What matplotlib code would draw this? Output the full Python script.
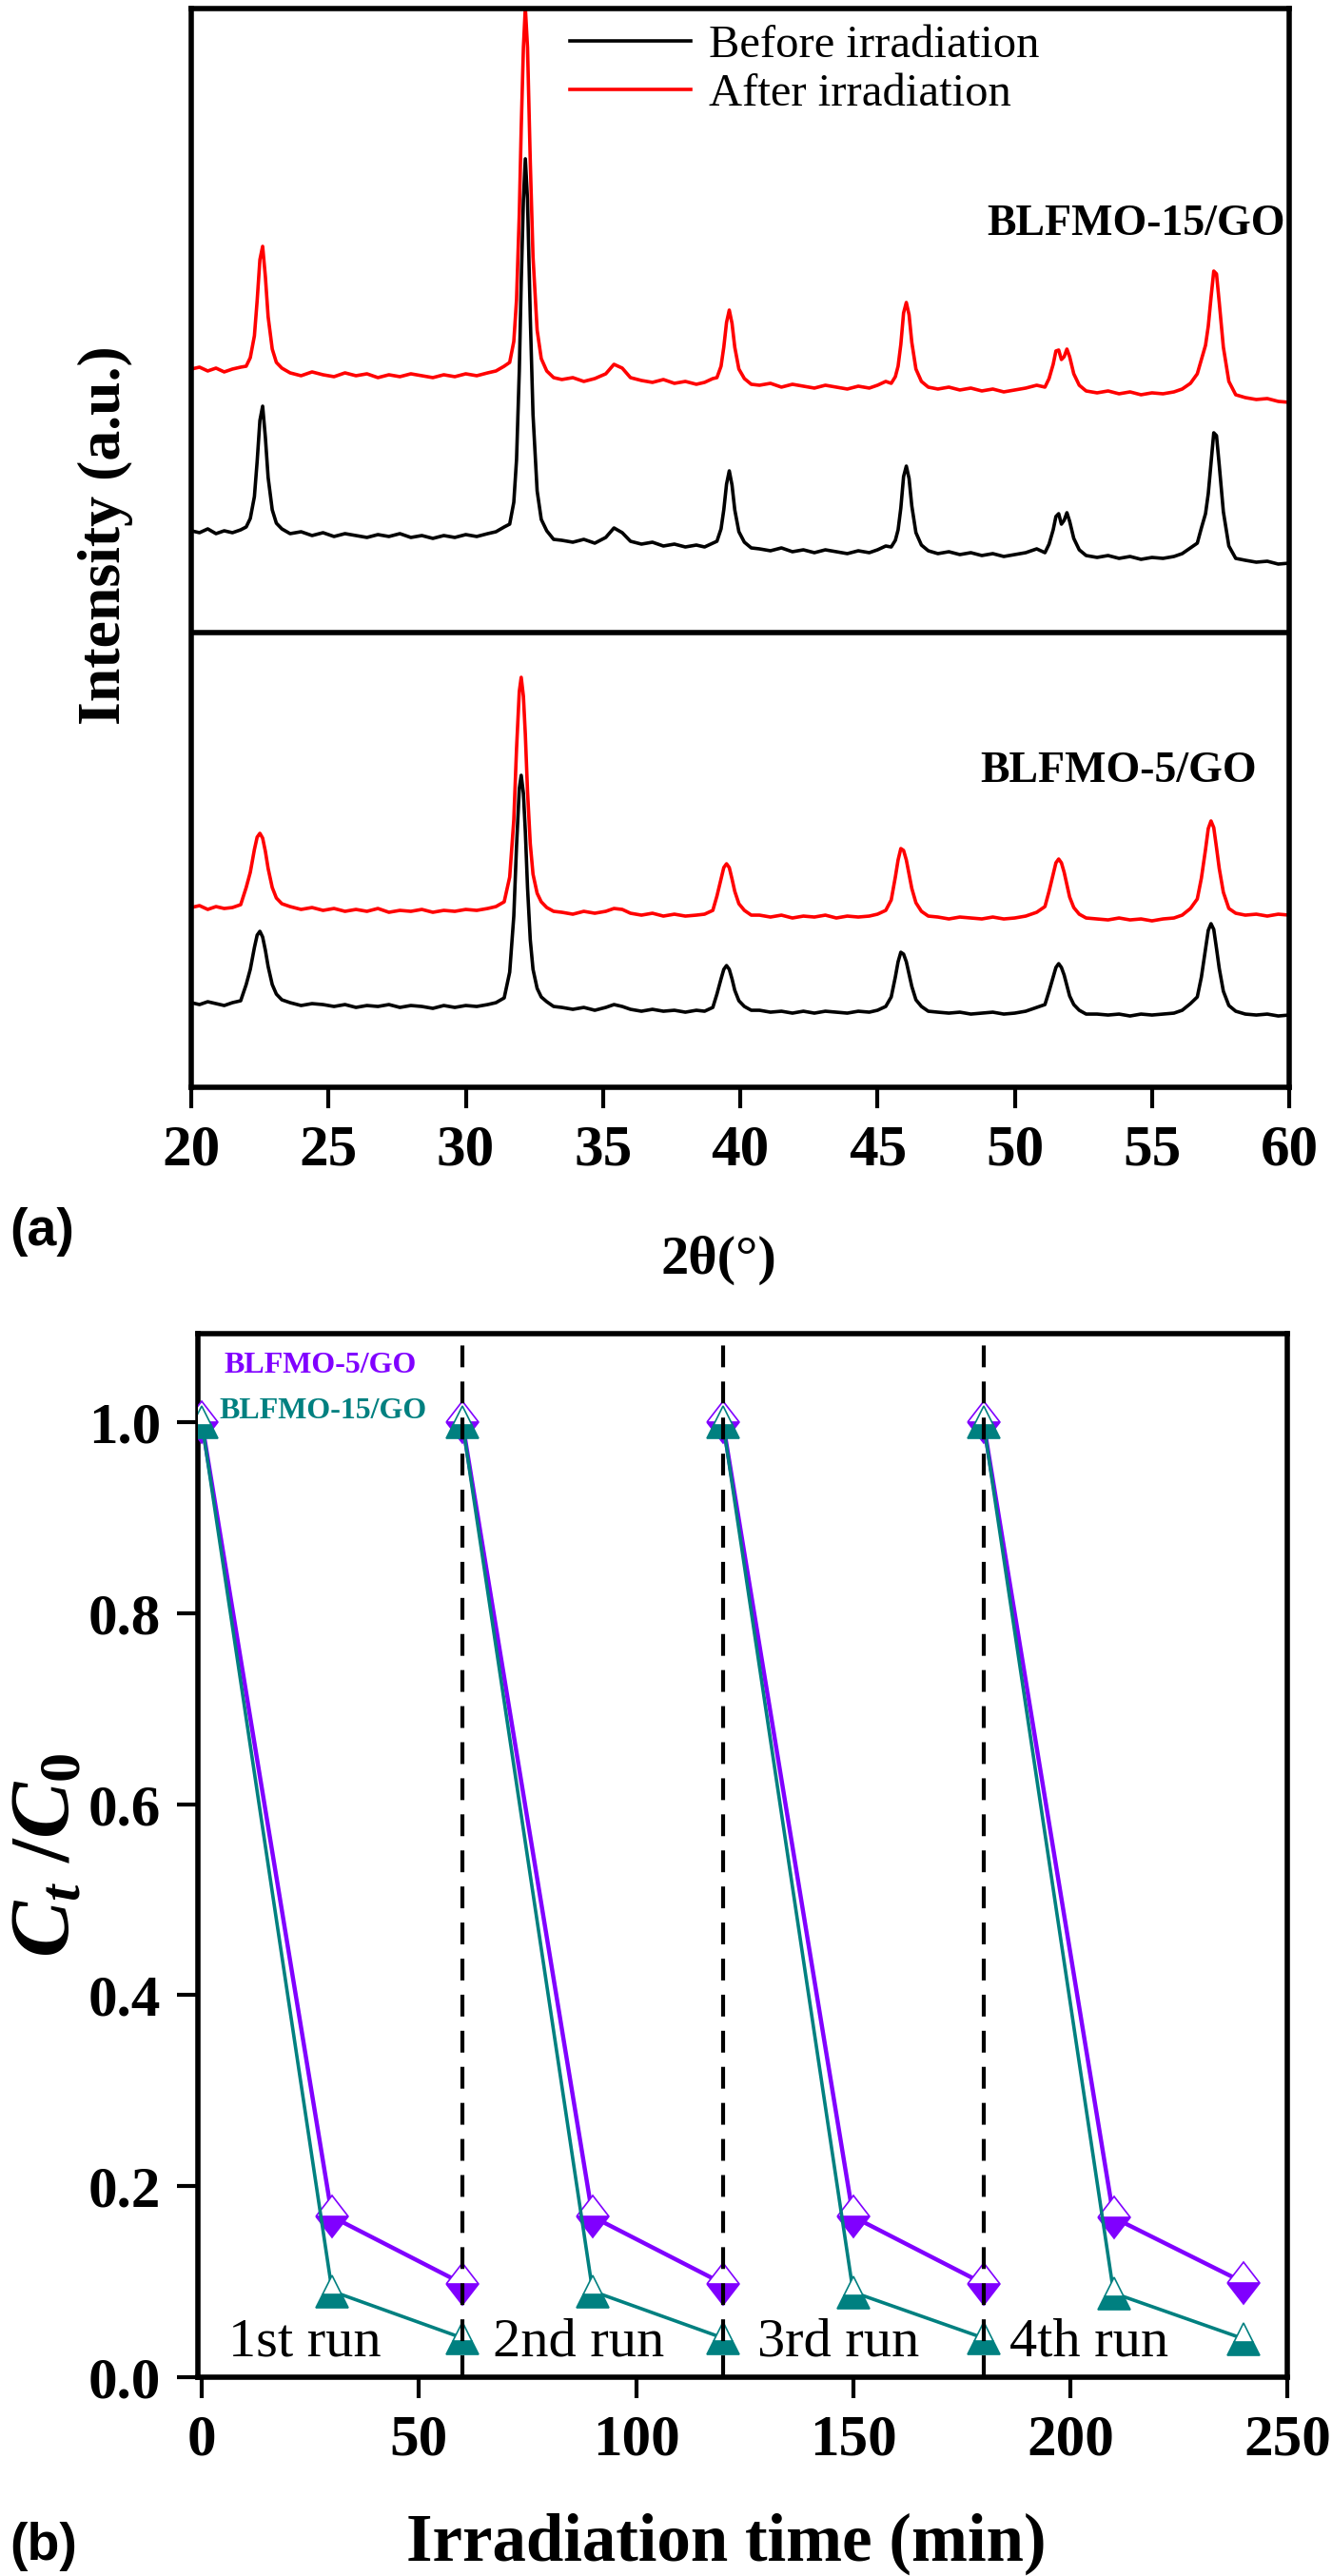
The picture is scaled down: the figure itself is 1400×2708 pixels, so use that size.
import numpy as np
import matplotlib
matplotlib.use('Agg')
import matplotlib.pyplot as plt
from matplotlib.markers import MarkerStyle
from matplotlib.transforms import Affine2D

plt.rcParams['font.family'] = ['Liberation Serif', 'DejaVu Serif']
plt.rcParams['font.weight'] = 'bold'
plt.rcParams['axes.labelweight'] = 'bold'
plt.rcParams['mathtext.fontset'] = 'custom'
plt.rcParams['mathtext.rm'] = 'Liberation Serif:bold'
plt.rcParams['mathtext.it'] = 'Liberation Serif:italic:bold'
plt.rcParams['mathtext.bf'] = 'Liberation Serif:bold'

# ---- (a) XRD patterns, stacked (a.u.) ----
two_theta = [20.0, 20.3, 20.6, 20.9, 21.2, 21.5, 21.8,
             22.0, 22.15, 22.3, 22.4, 22.5, 22.6, 22.7, 22.8, 22.95, 23.1, 23.3,
             23.6, 24.0, 24.4, 24.8, 25.2, 25.6, 26.0, 26.4, 26.8, 27.2, 27.6, 28.0, 28.4, 28.8, 29.2, 29.6, 30.0, 30.4, 30.8, 31.1, 31.4,
             31.6, 31.75, 31.85, 31.95, 32.02, 32.1, 32.17, 32.25, 32.35, 32.45, 32.6, 32.75, 32.95, 33.2,
             33.5, 33.9, 34.3, 34.7, 35.1, 35.4, 35.7, 36.0, 36.4, 36.8, 37.2, 37.6, 38.0, 38.4, 38.7, 39.0,
             39.15, 39.3, 39.4, 39.5, 39.6, 39.7, 39.8, 39.95, 40.15, 40.4,
             40.7, 41.1, 41.5, 41.9, 42.3, 42.7, 43.1, 43.5, 43.9, 44.3, 44.7, 45.0, 45.3,
             45.5, 45.65, 45.75, 45.85, 45.95, 46.05, 46.15, 46.25, 46.4, 46.6, 46.85,
             47.2, 47.6, 48.0, 48.4, 48.8, 49.2, 49.6, 50.0, 50.4, 50.8,
             51.1, 51.25, 51.4, 51.5, 51.6, 51.7, 51.8, 51.9, 52.0, 52.15, 52.35, 52.6,
             53.0, 53.4, 53.8, 54.2, 54.6, 55.0, 55.4, 55.8, 56.1, 56.4,
             56.65, 56.8, 56.95, 57.05, 57.15, 57.25, 57.35, 57.45, 57.6, 57.8, 58.05,
             58.4, 58.8, 59.2, 59.6, 60.0]

go15_after = [755, 757, 753, 756, 752, 755, 757,
              758, 767, 790, 827, 870, 884, 852, 810, 776, 762, 756,
              751, 748, 752, 749, 747, 751, 748, 750, 746, 749, 747, 750, 748, 746, 749, 747, 750, 748, 751, 753, 758,
              762, 784, 828, 918, 1008, 1093, 1135, 1093, 973, 873, 796, 766, 753, 746,
              744, 746, 742, 745, 750, 760, 756, 746, 743, 741, 744, 740, 742, 739, 741, 745,
              746, 758, 778, 804, 817, 803, 778, 755, 745, 739,
              738, 740, 736, 739, 737, 735, 738, 736, 734, 737, 735, 738, 742,
              740, 747, 758, 781, 814, 825, 812, 783, 755, 742, 736,
              734, 736, 733, 735, 732, 734, 731, 733, 735, 738,
              736, 745, 760, 774, 775, 765, 768, 776, 768, 750, 738, 732,
              730, 732, 729, 731, 728, 730, 729, 731, 734, 740,
              750, 765, 780, 800, 830, 858, 855, 825, 778, 742, 728,
              725, 723, 724, 721, 720]

go15_before = [585, 583, 587, 582, 585, 583, 586,
               589, 598, 621, 658, 701, 716, 683, 641, 607, 593, 587,
               582, 584, 580, 583, 579, 582, 580, 578, 581, 579, 582, 578, 580, 577, 580, 578, 581, 579, 582, 584, 589,
               592, 615, 660, 753, 846, 933, 976, 933, 810, 707, 627, 597, 585, 576,
               575, 573, 576, 572, 578, 588, 583, 574, 571, 573, 569, 571, 568, 570, 568, 572,
               574, 587, 607, 634, 648, 633, 607, 584, 573, 567,
               566, 564, 567, 563, 565, 562, 565, 563, 561, 564, 562, 565, 569,
               568, 575, 586, 609, 642, 653, 640, 611, 583, 570, 564,
               561, 563, 560, 562, 559, 561, 558, 560, 562, 566,
               562, 571, 586, 600, 603, 592, 596, 604, 595, 577, 565, 559,
               557, 559, 556, 558, 555, 557, 556, 558, 561, 567,
               572, 588, 603, 624, 656, 688, 685, 654, 605, 569, 556,
               554, 552, 553, 550, 551]

go5_after = [189, 191, 187, 190, 188, 189, 192,
             210, 226, 250, 263, 267, 262, 248, 230, 210, 199, 193,
             190, 187, 189, 186, 188, 185, 187, 185, 188, 184, 186, 185, 187, 184, 186, 185, 187, 186, 188, 190, 195,
             221, 281, 356, 416, 431, 411, 371, 311, 256, 224, 204, 195, 189, 185,
             184, 182, 185, 183, 185, 188, 187, 183, 181, 183, 180, 182, 180, 181, 182, 186,
             201, 219, 231, 235, 231, 219, 206, 193, 186, 181,
             181, 179, 181, 178, 180, 179, 181, 178, 180, 179, 180, 182, 186,
             197, 221, 239, 251, 249, 239, 224, 209, 194, 185, 180,
             179, 177, 179, 178, 177, 179, 177, 178, 180, 184,
             190, 206, 224, 236, 240, 236, 226, 213, 200, 189, 182, 178,
             177, 176, 178, 176, 177, 175, 177, 178, 181, 188,
             198, 220, 250, 272, 280, 273, 252, 230, 205, 188, 183,
             181, 182, 180, 182, 181]

go5_before = [89, 87, 90, 88, 86, 89, 91,
              108, 124, 147, 160, 164, 158, 144, 127, 108, 98, 92,
              89, 86, 88, 87, 85, 87, 84, 86, 85, 87, 84, 86, 85, 83, 86, 84, 86, 85, 87, 89, 94,
              121, 180, 254, 314, 328, 309, 269, 210, 155, 124, 104, 95, 90, 85,
              84, 82, 84, 81, 84, 87, 85, 82, 80, 82, 80, 81, 79, 81, 80, 84,
              98, 114, 124, 128, 124, 114, 102, 91, 85, 81,
              81, 79, 80, 78, 80, 78, 80, 79, 78, 80, 79, 81, 85,
              95, 116, 132, 142, 140, 132, 119, 106, 92, 85, 80,
              79, 78, 79, 77, 78, 79, 77, 78, 80, 84,
              87, 101, 116, 126, 130, 126, 118, 107, 96, 87, 81, 77,
              77, 76, 77, 75, 77, 76, 77, 78, 81, 88,
              95, 116, 145, 165, 172, 166, 146, 125, 101, 86, 80,
              77, 76, 77, 75, 76]

# ---- (b) cycling runs ----
run_times = [[0, 30, 60], [60, 90, 120], [120, 150, 180], [180, 210, 240]]
ct_go5 = [[1.0, 0.168, 0.098], [1.0, 0.168, 0.098], [1.0, 0.168, 0.098], [1.0, 0.167, 0.099]]
ct_go15 = [[1.0, 0.090, 0.041], [1.0, 0.090, 0.041], [1.0, 0.089, 0.041], [1.0, 0.088, 0.040]]
run_ends = [60, 120, 180]
run_labels = ['1st run', '2nd run', '3rd run', '4th run']
run_label_x = [6, 67, 128, 186]

purple = '#8000FF'
teal = '#008080'

fig = plt.figure(figsize=(14, 27.08), dpi=100)

# panel (a)
ax1 = fig.add_axes([0.1436, 0.5779, 0.8243, 0.4188])
ax1.plot(two_theta, go15_before, color='black', lw=2.6, label='Before irradiation')
ax1.plot(two_theta, go15_after, color='red', lw=2.6, label='After irradiation')
ax1.plot(two_theta, go5_before, color='black', lw=2.6)
ax1.plot(two_theta, go5_after, color='red', lw=2.6)
ax1.axhline(478, color='black', lw=4)
ax1.set_xlim(20, 60)
ax1.set_ylim(0, 1134)
ax1.set_xticks(np.arange(20, 61, 5))
ax1.set_yticks([])
ax1.tick_params(axis='x', direction='out', length=16, width=3, labelsize=44, pad=12)
for s in ax1.spines.values():
    s.set_linewidth(4)
ax1.text(59.85, 907, 'BLFMO-15/GO', fontsize=33, ha='right', va='center')
ax1.text(58.8, 332, 'BLFMO-5/GO', fontsize=33, ha='right', va='center')
ax1.legend(loc='upper left', bbox_to_anchor=(0.345, 0.985), frameon=False,
           prop={'size': 35, 'weight': 'normal'}, handlelength=2.6,
           handletextpad=0.4, labelspacing=0.15, borderpad=0, borderaxespad=0)
ax1.set_xlabel('2θ(°)', fontsize=42)
ax1.xaxis.set_label_coords(0.48, -0.16)
ax1.xaxis.label.set_va('center')
ax1.set_ylabel('Intensity (a.u.)', fontsize=46)
ax1.yaxis.set_label_coords(-0.078, 0.512)
ax1.yaxis.label.set_va('center')

# panel (b)
ax2 = fig.add_axes([0.1486, 0.0772, 0.8179, 0.4051])
diamond = MarkerStyle('D', fillstyle='bottom', transform=Affine2D().scale(0.78, 1.0))
for t, c in zip(run_times, ct_go5):
    ax2.plot(t, c, color=purple, lw=3.2, marker=diamond, ms=22, mec=purple,
             mfc=purple, mfcalt='white', mew=1.2, zorder=3)
for t, c in zip(run_times, ct_go15):
    ax2.plot(t, c, color=teal, lw=2.6, marker='^', fillstyle='bottom', ms=24,
             mec=teal, mfc=teal, mfcalt='white', mew=1.2, zorder=4)
for xe in run_ends:
    ax2.axvline(xe, color='black', lw=3, dashes=(5.5, 3.6), zorder=5)
for lab, xl in zip(run_labels, run_label_x):
    ax2.text(xl, 0.022, lab, fontsize=42, fontweight='normal', ha='left', va='baseline')
ax2.text(5, 1.06, 'BLFMO-5/GO', fontsize=23, color=purple, ha='left', va='center')
ax2.text(4, 1.012, 'BLFMO-15/GO', fontsize=23, color=teal, ha='left', va='center')
ax2.set_xlim(-0.9, 250)
ax2.set_ylim(0, 1.093)
ax2.set_xticks(np.arange(0, 251, 50))
ax2.set_yticks(np.arange(0, 1.01, 0.2))
ax2.set_yticklabels(['0.0', '0.2', '0.4', '0.6', '0.8', '1.0'])
ax2.tick_params(direction='out', length=16, width=3, labelsize=44, pad=12)
for s in ax2.spines.values():
    s.set_linewidth(4)
ax2.set_xlabel('Irradiation time (min)', fontsize=51)
ax2.xaxis.set_label_coords(0.485, -0.16)
ax2.xaxis.label.set_va('center')
ax2.set_ylabel(r'$C_t$ /$C_\mathbf{0}$', fontsize=64)
ax2.yaxis.set_label_coords(-0.138, 0.5)
ax2.yaxis.label.set_va('center')

fig.text(0.007, 1 - 1295 / 2708, '(a)', fontsize=40, family='Liberation Sans', va='center')
fig.text(0.007, 1 - 2677 / 2708, '(b)', fontsize=40, family='Liberation Sans', va='center')

fig.savefig('out.png', dpi=100)
